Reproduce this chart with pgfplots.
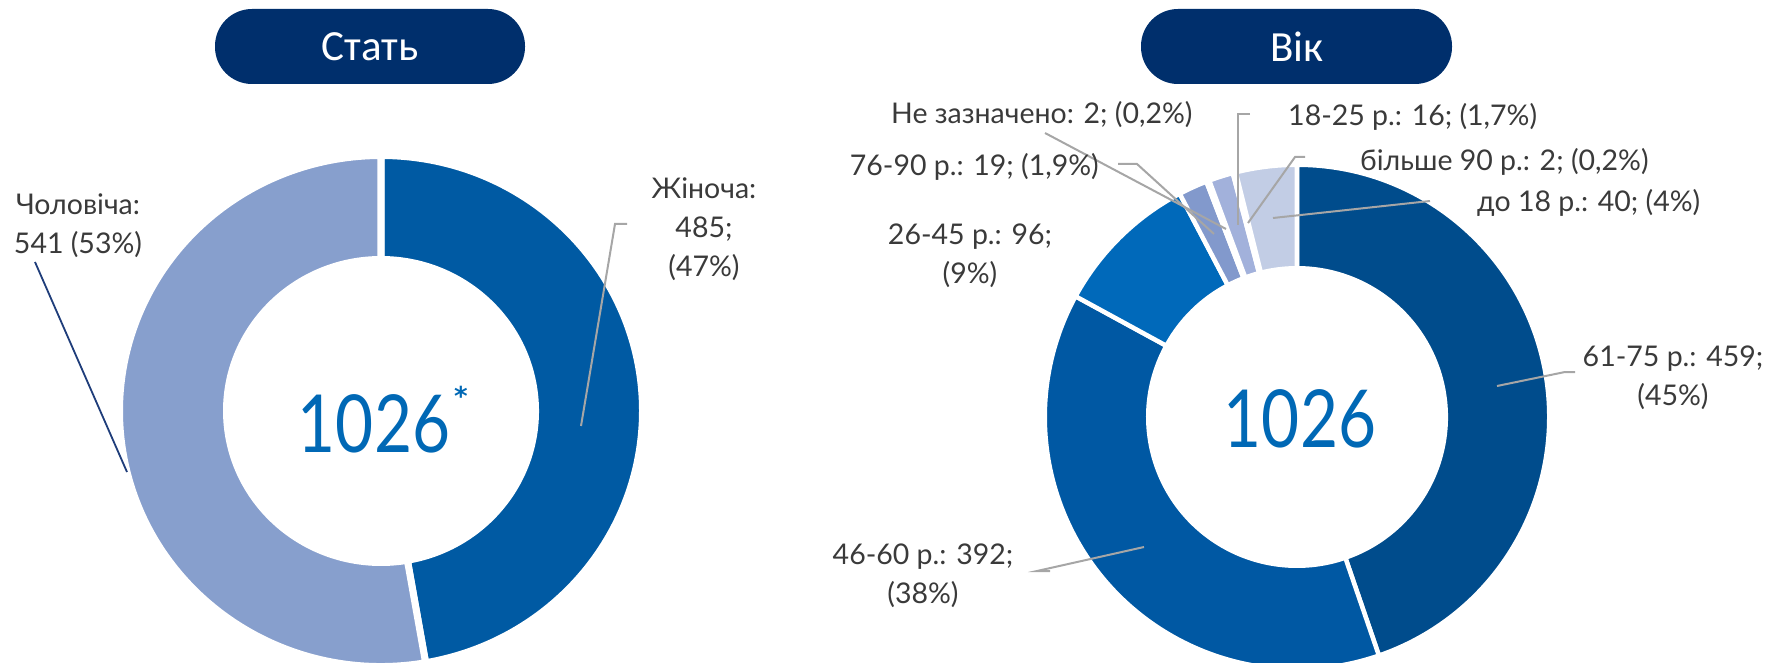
\documentclass[border=0pt]{standalone}
\usepackage{pgfplots}
\pgfplotsset{compat=1.18}
\usepackage{pgfplotstable}
\usepackage{fontspec}
\setmainfont{Lato}
\newfontfamily\titlefont{Carlito}
\newfontfamily\numfont[FakeStretch=0.82]{Lato}
\newfontfamily\symfont{DejaVu Sans}

\definecolor{pill}{HTML}{002F6C}
\definecolor{txt}{HTML}{3A3A3A}
\definecolor{numc}{HTML}{0068B5}
\definecolor{leadc}{HTML}{A6A6A6}
\definecolor{leadnavy}{HTML}{1F3D7A}
\definecolor{sexc0}{HTML}{005AA3}
\definecolor{sexc1}{HTML}{879FCD}
\definecolor{agec0}{HTML}{004C8C}
\definecolor{agec1}{HTML}{0058A3}
\definecolor{agec2}{HTML}{0069BA}
\definecolor{agec3}{HTML}{8299CC}
\definecolor{agec4}{HTML}{3F5FA8}
\definecolor{agec5}{HTML}{A2B1DB}
\definecolor{agec6}{HTML}{6F86C0}
\definecolor{agec7}{HTML}{C2CDE5}

% Стать: Жіноча, Чоловіча
\pgfplotstableread{
value
485
541
}\sexdata
% Вік: 61-75, 46-60, 26-45, 76-90, Не зазначено, 18-25, більше 90, до 18
\pgfplotstableread{
value
459
392
96
19
2
16
2
40
}\agedata

\newcommand\computeangles[2]{%
  \xdef\tot{0}%
  \pgfplotstableforeachcolumnelement{value}\of#1\as\v{\pgfmathsetmacro\tmp{\tot+\v}\xdef\tot{\tmp}}%
  \xdef\cum{90}%
  \pgfplotstableforeachcolumnelement{value}\of#1\as\v{%
    \pgfmathsetmacro\tmp{\cum-\v/\tot*360}%
    \expandafter\xdef\csname #2A\pgfplotstablerow\endcsname{\cum}%
    \expandafter\xdef\csname #2B\pgfplotstablerow\endcsname{\tmp}%
    \xdef\cum{\tmp}}%
}
\computeangles{\sexdata}{sex}
\computeangles{\agedata}{age}

% cx cy rxo ryo rxi ryi a1 a2 style
\newcommand\sector[9]{%
  \fill[#9] (axis cs:{#1+#3*cos(#7)},{#2+#4*sin(#7)})
    arc[start angle=#7,end angle=#8,x radius=#3 pt,y radius=#4 pt]
    -- (axis cs:{#1+#5*cos(#8)},{#2+#6*sin(#8)})
    arc[start angle=#8,end angle=#7,x radius=#5 pt,y radius=#6 pt] -- cycle;}

\begin{document}
\begin{tikzpicture}[
  lbl/.style={text=txt,font=\fontsize{28.5}{39}\selectfont,inner sep=0pt},
  leader/.style={draw=leadc,line width=2pt}]
\begin{axis}[x=1pt,y=1pt,xmin=0,xmax=1768,ymin=0,ymax=662,hide axis]
% left donut
\pgfplotsinvokeforeach{0,1}{%
  \sector{381}{251}{261.5}{255.5}{154.5}{151.5}{\csname sexA#1\endcsname}{\csname sexB#1\endcsname}{fill=sexc#1,draw=white,line width=7pt}}
% right donut
\pgfplotsinvokeforeach{0,...,7}{%
  \sector{1297}{245}{252.25}{252.25}{148.75}{148.75}{\csname ageA#1\endcsname}{\csname ageB#1\endcsname}{fill=agec#1,draw=white,line width=4.5pt}}

% title pills
\fill[pill,rounded corners=37pt] (axis cs:215,578) rectangle (axis cs:525,653);
\node[text=white,font=\titlefont\fontsize{43}{50}\selectfont] at (axis cs:370,615) {Стать};
\fill[pill,rounded corners=37pt] (axis cs:1141,578) rectangle (axis cs:1452,653);
\node[text=white,font=\titlefont\fontsize{43}{50}\selectfont] at (axis cs:1297,615) {Вік};

% centre numbers
\node[text=numc,font=\numfont\fontsize{80}{90}\selectfont,inner sep=0pt] at (axis cs:374,238) {1026};
\node[text=numc,font=\symfont\bfseries\fontsize{26}{26}\selectfont,inner sep=0pt] at (axis cs:461,266) {*};
\node[text=numc,font=\numfont\fontsize{80}{90}\selectfont,inner sep=0pt] at (axis cs:1300,243) {1026};

% left labels
\draw[leader] (axis cs:627,438) -- (axis cs:615,438) -- (axis cs:581,236);
\node[lbl,align=center] at (axis cs:704,433) {Жіноча:\\485;\\(47\%)};
\draw[draw=leadnavy,line width=1.8pt] (axis cs:35,400) -- (axis cs:127,190);
\node[lbl,align=center] at (axis cs:78,436) {Чоловіча:\\541 (53\%)};

% right labels
\draw[leader] (axis cs:1045,529) -- (axis cs:1226,433);
\draw[leader] (axis cs:1118,498) -- (axis cs:1137,498) -- (axis cs:1214,428);
\draw[leader] (axis cs:1250,548) -- (axis cs:1238,548) -- (axis cs:1238,437);
\draw[leader] (axis cs:1305,505) -- (axis cs:1295,505) -- (axis cs:1248,439);
\draw[leader] (axis cs:1430,461) -- (axis cs:1273,444);
\draw[leader] (axis cs:1575,290) -- (axis cs:1565,290) -- (axis cs:1497,276);
\draw[leader] (axis cs:1050,91) -- (axis cs:1037,91) -- (axis cs:1144,115);

\node[lbl,anchor=west] at (axis cs:891,547) {Не зазначено: 2; (0,2\%)};
\node[lbl,anchor=east] at (axis cs:1099,495) {76-90 р.: 19; (1,9\%)};
\node[lbl,anchor=west] at (axis cs:1288,545) {18-25 р.: 16; (1,7\%)};
\node[lbl,anchor=west] at (axis cs:1360,500) {більше 90 р.: 2; (0,2\%)};
\node[lbl,anchor=west] at (axis cs:1477,459) {до 18 р.: 40; (4\%)};
\node[lbl,align=center] at (axis cs:970,406) {26-45 р.: 96;\\(9\%)};
\node[lbl,align=center] at (axis cs:1673,284) {61-75 р.: 459;\\(45\%)};
\node[lbl,align=center] at (axis cs:923,86) {46-60 р.: 392;\\(38\%)};
\end{axis}
\pgfresetboundingbox
\path (0,0) rectangle (1768pt,662pt);
\end{tikzpicture}
\end{document}
